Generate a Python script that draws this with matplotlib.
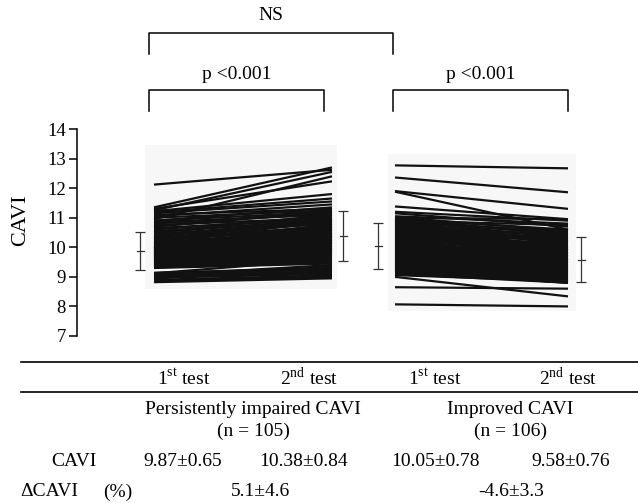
import matplotlib
matplotlib.use('Agg')
import matplotlib.pyplot as plt
import matplotlib.patches as patches

plt.rcParams['font.family'] = ['Liberation Serif', 'DejaVu Serif']
plt.rcParams['mathtext.fontset'] = 'custom'
plt.rcParams['mathtext.rm'] = 'Liberation Serif'

# persistently impaired CAVI (n = 105): 1st test, 2nd test
impaired_1st = [12.12, 11.35, 11.30, 11.25, 11.22, 11.18, 11.15, 11.10, 11.05, 11.00,
                10.95, 10.90, 10.85, 10.80, 10.75, 10.70, 10.65, 10.60, 10.55, 10.50,
                10.45, 10.40, 10.35, 10.30, 10.28, 10.25, 10.20, 10.18, 10.15, 10.12,
                10.10, 10.08, 10.05, 10.02, 10.00, 9.98, 9.96, 9.94, 9.92, 9.90,
                9.88, 9.86, 9.84, 9.82, 9.80, 9.78, 9.76, 9.74, 9.72, 9.70,
                9.68, 9.66, 9.64, 9.62, 9.60, 9.58, 9.56, 9.54, 9.52, 9.50,
                9.48, 9.46, 9.44, 9.42, 9.40, 9.38, 9.36, 9.34, 9.32, 9.30,
                10.00, 9.90, 9.80, 9.70, 9.60, 9.50, 9.95, 9.85, 9.75, 9.65,
                9.55, 9.45, 10.30, 10.50, 10.70, 10.90, 9.35, 9.40, 9.60, 9.75,
                9.85, 9.95, 10.10, 10.25, 9.14, 9.12, 9.08, 9.05, 9.02, 9.00,
                8.97, 8.94, 8.90, 8.86, 8.82]
impaired_2nd = [12.62, 12.70, 12.23, 12.55, 11.80, 11.65, 11.55, 11.30, 11.45, 11.25,
                12.40, 11.20, 11.10, 11.15, 11.00, 11.25, 10.95, 11.05, 10.90, 11.10,
                10.85, 10.80, 11.00, 10.70, 10.95, 10.65, 10.75, 10.55, 10.90, 10.50,
                10.60, 10.45, 10.70, 10.40, 10.55, 10.35, 10.80, 10.30, 10.50, 10.25,
                10.40, 10.20, 10.60, 10.15, 10.35, 10.10, 10.45, 10.05, 10.25, 10.00,
                10.30, 9.95, 10.20, 9.90, 10.10, 9.85, 10.00, 9.80, 10.15, 9.75,
                9.95, 9.70, 9.90, 9.65, 9.85, 9.60, 9.55, 9.80, 9.50, 9.45,
                10.45, 10.35, 10.25, 10.15, 10.05, 9.95, 10.65, 10.50, 10.40, 10.30,
                9.90, 9.80, 10.85, 10.95, 11.20, 11.35, 9.70, 9.75, 9.95, 10.10,
                10.20, 10.35, 10.40, 10.60, 9.30, 9.60, 9.25, 9.40, 9.20, 9.15,
                9.10, 9.35, 9.05, 9.00, 8.95]

# improved CAVI (n = 106): 1st test, 2nd test
improved_1st = [12.77, 12.36, 11.90, 11.88, 11.38, 11.20, 11.15, 11.05, 11.02, 11.00,
                10.98, 10.95, 10.92, 10.90, 10.88, 10.85, 10.82, 10.80, 10.78, 10.75,
                10.72, 10.70, 10.68, 10.65, 10.62, 10.60, 10.58, 10.55, 10.52, 10.50,
                10.48, 10.45, 10.42, 10.40, 10.38, 10.35, 10.32, 10.30, 10.28, 10.25,
                10.22, 10.20, 10.18, 10.15, 10.12, 10.10, 10.08, 10.05, 10.02, 10.00,
                9.98, 9.96, 9.94, 9.92, 9.90, 9.88, 9.86, 9.84, 9.82, 9.80,
                9.78, 9.76, 9.74, 9.72, 9.70, 9.68, 9.66, 9.64, 9.62, 9.60,
                9.58, 9.56, 9.54, 9.52, 9.50, 9.48, 9.46, 9.44, 9.42, 9.40,
                9.38, 9.36, 9.34, 9.32, 9.30, 9.28, 9.26, 9.24, 9.22, 9.20,
                9.18, 9.16, 9.14, 9.12, 9.10, 9.08, 9.06, 10.60, 10.30, 10.00,
                9.70, 10.90, 9.40, 9.00, 8.65, 8.07]
improved_2nd = [12.67, 11.86, 11.30, 10.60, 10.95, 10.90, 10.70, 10.80, 10.55, 10.95,
                10.40, 10.60, 10.30, 10.50, 10.45, 10.20, 10.55, 10.35, 10.10, 10.40,
                10.25, 10.00, 10.30, 10.15, 9.95, 10.25, 10.05, 9.90, 10.20, 9.95,
                9.80, 10.10, 9.90, 9.75, 10.00, 9.85, 9.70, 9.95, 9.80, 9.60,
                9.90, 9.70, 9.55, 9.80, 9.65, 9.50, 9.75, 9.60, 9.45, 9.70,
                9.55, 9.40, 9.65, 9.50, 9.35, 9.60, 9.45, 9.30, 9.55, 9.40,
                9.25, 9.50, 9.35, 9.20, 9.45, 9.30, 9.15, 9.40, 9.25, 9.10,
                9.35, 9.20, 9.05, 9.30, 9.15, 9.00, 9.25, 9.10, 8.95, 9.20,
                9.05, 8.90, 9.15, 9.00, 8.85, 9.10, 8.95, 8.80, 9.05, 8.90,
                8.80, 9.00, 8.85, 8.95, 8.80, 8.90, 8.85, 10.45, 10.15, 9.85,
                9.60, 10.75, 9.30, 8.34, 8.60, 8.00]

# mean and SD per test (from the table)
group_names = ['Persistently impaired CAVI', 'Improved CAVI']
group_n = [105, 106]
cavi_mean = [9.87, 10.38, 10.05, 9.58]
cavi_sd = [0.65, 0.84, 0.78, 0.76]
delta_mean = [5.1, -4.6]
delta_sd = [4.6, 3.3]
yticks = [7, 8, 9, 10, 11, 12, 13, 14]

fig = plt.figure(figsize=(6.38, 5.03), dpi=100)

# main panel, x in pixel units of the figure
ax = fig.add_axes([0, 1 - 336 / 503, 1, 207 / 503])
ax.set_xlim(0, 638)
ax.set_ylim(7, 14)
for s in ['top', 'right', 'bottom']:
    ax.spines[s].set_visible(False)
ax.spines['left'].set_position(('data', 77))
ax.spines['left'].set_linewidth(1.1)
ax.set_yticks(yticks)
ax.tick_params(axis='y', length=6, width=1.1, labelsize=13.5, pad=2)
ax.set_xticks([])
ax.set_ylabel('CAVI', fontsize=16, labelpad=0)
ax.yaxis.set_label_coords(30 / 638, 0.56)

# faint scan background behind the lines
ax.add_patch(patches.Rectangle((145, 8.6), 192, 4.85, facecolor='#f7f7f7',
                               edgecolor='none', zorder=0))
ax.add_patch(patches.Rectangle((388, 7.85), 188, 5.3, facecolor='#f7f7f7',
                               edgecolor='none', zorder=0))

# paired lines
for a, b in zip(impaired_1st, impaired_2nd):
    ax.plot([154, 332], [a, b], color='#111111', lw=1.6, solid_capstyle='butt', zorder=2)
for a, b in zip(improved_1st, improved_2nd):
    ax.plot([395, 568], [a, b], color='#111111', lw=1.6, solid_capstyle='butt', zorder=2)

# mean +- SD error bars
err_x = [140, 343, 378, 581]
ax.errorbar(err_x, cavi_mean, yerr=cavi_sd, fmt='none',
            ecolor='#333333', elinewidth=0.9, capsize=3.5, capthick=0.9, zorder=3)
for xx, m in zip(err_x, cavi_mean):
    ax.plot([xx - 3.5, xx + 3.5], [m, m], color='#333333', lw=0.9, zorder=3)

# overlay in pixel coordinates for brackets and table
ov = fig.add_axes([0, 0, 1, 1])
ov.set_xlim(0, 638)
ov.set_ylim(503, 0)
ov.axis('off')
ov.patch.set_alpha(0)

fs = 14

def bracket(x0, x1, y, h, label, ty):
    ov.plot([x0, x0, x1, x1], [y + h, y, y, y + h], color='black', lw=1.1)
    ov.text((x0 + x1) / 2, ty, label, ha='center', va='center', fontsize=fs)

bracket(149, 393, 33, 21, 'NS', 15)
bracket(149, 324, 90, 21, 'p <0.001', 74)
bracket(393, 568, 90, 21, 'p <0.001', 74)

# table
ov.plot([21, 638], [362, 362], color='black', lw=1.2)
ov.plot([21, 638], [392, 392], color='black', lw=1.2)
col_x = [184, 309, 435, 568]
heads = [r'1$^{\rm st}$ test', r'2$^{\rm nd}$ test', r'1$^{\rm st}$ test', r'2$^{\rm nd}$ test']
for xx, h in zip(col_x, heads):
    ov.text(xx, 378, h, ha='center', va='center', fontsize=fs)
grp_x = [253, 510]
for xx, name, n in zip(grp_x, group_names, group_n):
    ov.text(xx, 409, name, ha='center', va='center', fontsize=fs)
    ov.text(xx, 431, '(n = %d)' % n, ha='center', va='center', fontsize=fs)
ov.text(74, 462, 'CAVI', ha='center', va='center', fontsize=fs)
for xx, m, s in zip([183, 304, 435, 571], cavi_mean, cavi_sd):
    ov.text(xx, 462, '%.2f\u00b1%.2f' % (m, s), ha='center', va='center', fontsize=fs)
ov.text(20, 492, '\u0394CAVI', ha='left', va='center', fontsize=fs)
ov.text(103, 492, '(%)', ha='left', va='center', fontsize=fs)
for xx, m, s in zip([260, 511], delta_mean, delta_sd):
    ov.text(xx, 492, '%.1f\u00b1%.1f' % (m, s), ha='center', va='center', fontsize=fs)

fig.savefig('out.png', dpi=100)
